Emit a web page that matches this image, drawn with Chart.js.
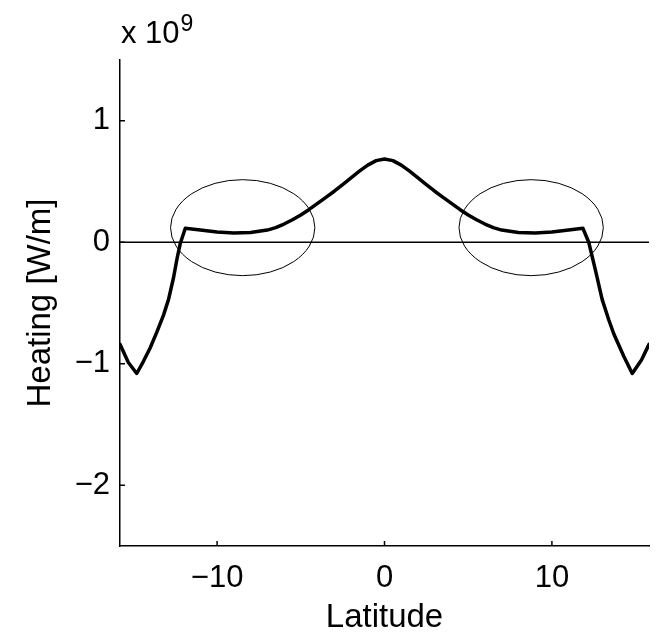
<!DOCTYPE html>
<html>
<head>
<meta charset="utf-8">
<title>Heating vs Latitude</title>
<script src="https://cdn.jsdelivr.net/npm/chart.js@4.4.0/dist/chart.umd.min.js"></script>
<style>
  html, body { margin: 0; padding: 0; background: #fff; }
  #wrap { width: 656px; height: 632px; }
</style>
</head>
<body>
<div id="wrap"><canvas id="heatChart" width="656" height="632"></canvas></div>
<script>
// values (heating in units of 1e9 W/m)
const latitude = [
  -15.8, -15.3, -14.8, -14.4, -14.0, -13.6, -13.2, -12.9, -12.6, -12.4, -12.2, -11.9,
  -11.0, -10.0, -9.0, -8.0, -7.0, -6.5, -6.0, -5.5, -5.0, -4.5, -4.0, -3.5, -3.0,
  -2.5, -2.0, -1.5, -1.0, -0.5, 0,
  0.5, 1.0, 1.5, 2.0, 2.5, 3.0, 3.5, 4.0, 4.5, 5.0, 5.5, 6.0, 6.5, 7.0, 8.0, 9.0,
  10.0, 11.0, 11.85, 12.2, 12.6, 13.0, 13.4, 13.7, 14.3, 14.8, 15.35, 15.8
];
const heating = [
  -0.84, -0.99, -1.08, -0.98, -0.87, -0.74, -0.60, -0.47, -0.29, -0.14, -0.01, 0.115,
  0.10, 0.085, 0.077, 0.08, 0.10, 0.12, 0.15, 0.185, 0.225, 0.27, 0.32, 0.37, 0.42,
  0.475, 0.53, 0.585, 0.635, 0.672, 0.685,
  0.672, 0.635, 0.585, 0.53, 0.475, 0.42, 0.37, 0.32, 0.27, 0.225, 0.185, 0.15, 0.12, 0.10, 0.08, 0.077,
  0.085, 0.10, 0.115, 0.0, -0.23, -0.47, -0.64, -0.755, -0.94, -1.08, -0.97, -0.84
];
const zeroLineX = [-15.8, 15.8];
const zeroLineY = [0, 0];
const xTickValues = [-10, 0, 10];
const yTickValues = [-2, -1, 0, 1];

// the two circled regions (centre and half-widths, data units)
const ellipseCenterX = [-8.47, 8.76];
const ellipseCenterY = [0.12, 0.12];
const ellipseRadiusX = [4.31, 4.31];
const ellipseRadiusY = [0.395, 0.395];

const FONT = '"Liberation Sans", Arial, Helvetica, sans-serif';
const minus = v => (v < 0 ? '\u2212' + Math.abs(v) : String(v));

const overlay = {
  id: 'overlay',
  afterDatasetsDraw(chart) {
    const { ctx, scales: { x, y } } = chart;
    ctx.save();
    ctx.strokeStyle = '#000';
    ctx.lineWidth = 1;
    ellipseCenterX.forEach((cx, i) => {
      const px = x.getPixelForValue(cx);
      const py = y.getPixelForValue(ellipseCenterY[i]);
      const rx = Math.abs(x.getPixelForValue(cx + ellipseRadiusX[i]) - px);
      const ry = Math.abs(y.getPixelForValue(ellipseCenterY[i] + ellipseRadiusY[i]) - py);
      ctx.beginPath();
      ctx.ellipse(px, py, rx, ry, 0, 0, Math.PI * 2);
      ctx.stroke();
    });

    // matlab style ticks pointing inside
    ctx.lineWidth = 1.5;
    x.ticks.forEach(t => {
      const px = x.getPixelForValue(t.value);
      ctx.beginPath();
      ctx.moveTo(px, y.bottom);
      ctx.lineTo(px, y.bottom - 5);
      ctx.stroke();
    });
    y.ticks.forEach(t => {
      const py = y.getPixelForValue(t.value);
      ctx.beginPath();
      ctx.moveTo(x.left, py);
      ctx.lineTo(x.left + 5, py);
      ctx.stroke();
    });

    // exponent label above the y axis
    ctx.fillStyle = '#000';
    ctx.textBaseline = 'alphabetic';
    ctx.textAlign = 'left';
    ctx.font = '31px ' + FONT;
    ctx.fillText('x 10', x.left + 1, 43);
    const w = ctx.measureText('x 10').width;
    ctx.font = '23px ' + FONT;
    ctx.fillText('9', x.left + 2 + w, 31);
    ctx.restore();
  }
};

const ctx = document.getElementById('heatChart');
const chart = new Chart(ctx, {
  type: 'line',
  data: {
    datasets: [
      {
        data: latitude.map((lat, i) => ({ x: lat, y: heating[i] })),
        borderColor: '#000',
        borderWidth: 3.5,
        borderJoinStyle: 'round',
        borderCapStyle: 'round',
        pointRadius: 0,
        tension: 0,
        fill: false,
        order: 1
      },
      {
        data: zeroLineX.map((v, i) => ({ x: v, y: zeroLineY[i] })),
        borderColor: '#000',
        borderWidth: 1.5,
        pointRadius: 0,
        fill: false,
        order: 2
      }
    ]
  },
  options: {
    responsive: false,
    animation: false,
    devicePixelRatio: 1,
    layout: { padding: { top: 60, right: 7, left: 0, bottom: 0 } },
    plugins: {
      legend: { display: false },
      tooltip: { enabled: false }
    },
    scales: {
      x: {
        type: 'linear',
        min: -15.8,
        max: 15.8,
        afterBuildTicks: s => { s.ticks = xTickValues.map(v => ({ value: v })); },
        afterFit: s => { s.height = 86; },
        grid: { display: false, drawTicks: false },
        border: { display: true, color: '#000', width: 1.5 },
        ticks: {
          color: '#000',
          padding: 14,
          maxRotation: 0,
          font: { family: FONT, size: 31 },
          callback: v => minus(v)
        },
        title: {
          display: true,
          text: 'Latitude',
          color: '#000',
          font: { family: FONT, size: 33, lineHeight: 0.8 },
          padding: { top: 1, bottom: 1 }
        }
      },
      y: {
        type: 'linear',
        min: -2.5,
        max: 1.5,
        afterBuildTicks: s => { s.ticks = yTickValues.map(v => ({ value: v })); },
        afterFit: s => { s.width = 120; },
        grid: { display: false, drawTicks: false },
        border: { display: true, color: '#000', width: 1.5 },
        ticks: {
          color: '#000',
          padding: 10,
          font: { family: FONT, size: 31 },
          callback: v => minus(v)
        },
        title: {
          display: true,
          text: 'Heating [W/m]',
          color: '#000',
          font: { family: FONT, size: 33, lineHeight: 1 },
          padding: { top: 24, bottom: 0 }
        }
      }
    }
  },
  plugins: [overlay]
});
</script>
</body>
</html>
